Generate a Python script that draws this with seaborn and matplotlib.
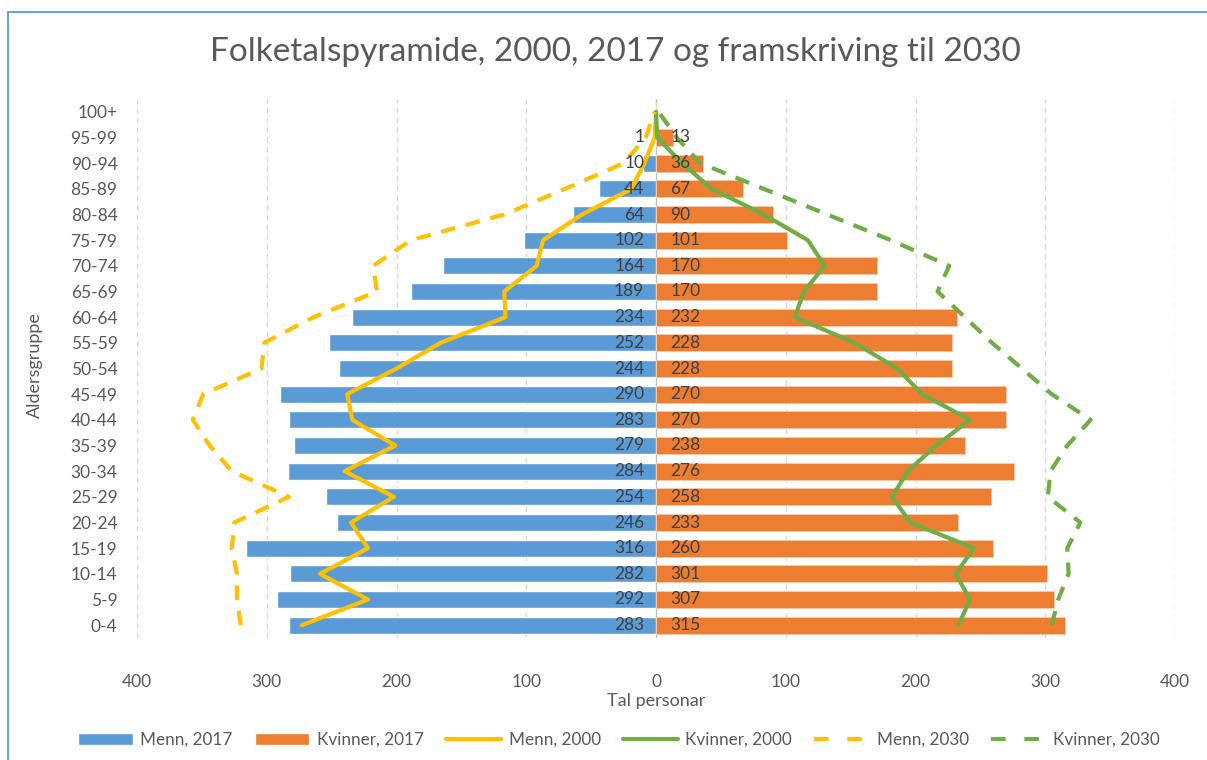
import matplotlib
matplotlib.use("Agg")
import matplotlib.pyplot as plt
from matplotlib.lines import Line2D
from matplotlib.patches import Patch
import numpy as np
import pandas as pd
import seaborn as sns

# age groups, bottom to top
AgeGroups = ["0-4", "5-9", "10-14", "15-19", "20-24", "25-29", "30-34", "35-39", "40-44", "45-49",
             "50-54", "55-59", "60-64", "65-69", "70-74", "75-79", "80-84", "85-89", "90-94", "95-99", "100+"]

Menn_2017 = [283, 292, 282, 316, 246, 254, 284, 279, 283, 290, 244, 252, 234, 189, 164, 102, 64, 44, 10, 1, 0]
Kvinner_2017 = [315, 307, 301, 260, 233, 258, 276, 238, 270, 270, 228, 228, 232, 170, 170, 101, 90, 67, 36, 13, 0]

Menn_2000 = [273, 222, 259, 222, 235, 202, 240, 201, 234, 238, 200, 166, 116, 117, 92, 87, 57, 19, 9, 1, 0]
Kvinner_2000 = [233, 242, 231, 245, 196, 182, 194, 216, 242, 205, 186, 153, 107, 114, 130, 117, 83, 43, 20, 1, 0]

Menn_2030 = [320, 323, 323, 327, 325, 283, 327, 344, 357, 349, 304, 302, 264, 215, 218, 189, 117, 70, 25, 8, 1]
Kvinner_2030 = [305, 310, 318, 317, 327, 302, 304, 317, 335, 305, 282, 259, 238, 217, 226, 181, 132, 83, 34, 16, 2]

XTicks = [-400, -300, -200, -100, 0, 100, 200, 300, 400]

BLUE = "#5B9BD5"
ORANGE = "#ED7D31"
YELLOW = "#FFC000"
GREEN = "#70AD47"
GREY = "#595959"

sns.set_style("white")
plt.rcParams['font.family'] = ['Lato', 'DejaVu Sans']

# top to bottom order for the categorical axis
order = AgeGroups[::-1]
df = pd.DataFrame({"Alder": AgeGroups,
                   "Menn": -np.array(Menn_2017),
                   "Kvinner": np.array(Kvinner_2017)})

fig = plt.figure(figsize=(12.07, 7.6), dpi=100)
ax = fig.add_axes([137/1207, 1-638/760, 1038/1207, 539/760])

sns.barplot(data=df, x="Menn", y="Alder", order=order, color=BLUE, saturation=1,
            width=0.66, orient="h", ax=ax)
sns.barplot(data=df, x="Kvinner", y="Alder", order=order, color=ORANGE, saturation=1,
            width=0.66, orient="h", ax=ax, edgecolor="#F8CBAD", linewidth=0.6)

ypos = 20 - np.arange(len(AgeGroups))
dash = (0, (3.5, 2.6))
sns.lineplot(x=-np.array(Menn_2000), y=ypos, sort=False, estimator=None, color=YELLOW, lw=3, ax=ax)
sns.lineplot(x=np.array(Kvinner_2000), y=ypos, sort=False, estimator=None, color=GREEN, lw=3, ax=ax)
sns.lineplot(x=-np.array(Menn_2030), y=ypos, sort=False, estimator=None, color=YELLOW, lw=3,
             linestyle=dash, ax=ax)
sns.lineplot(x=np.array(Kvinner_2030), y=ypos, sort=False, estimator=None, color=GREEN, lw=3,
             linestyle=dash, ax=ax)

# value labels at the base of the bars
for i, age in enumerate(AgeGroups):
    y = 20 - i
    if Menn_2017[i] > 0:
        ax.text(-9, y, str(Menn_2017[i]), ha="right", va="center", fontsize=12.5, color="#404040")
    if Kvinner_2017[i] > 0:
        ax.text(11, y, str(Kvinner_2017[i]), ha="left", va="center", fontsize=12.5, color="#404040")

ax.set_xlim(-400, 400)
ax.set_ylim(20.5, -0.5)
ax.set_xticks(XTicks)
ax.set_xticklabels([str(abs(v)) for v in XTicks])
ax.tick_params(axis="x", length=0, pad=26, labelsize=12.5, labelcolor=GREY)
ax.tick_params(axis="y", length=0, pad=14, labelsize=12.5, labelcolor=GREY)
ax.set_yticks(range(len(order)))
ax.set_yticklabels(order)

for v in XTicks:
    if v == 0:
        ax.axvline(0, color="#BFBFBF", lw=1, zorder=0.5)
    else:
        ax.axvline(v, color="#D9D9D9", lw=1, ls=(0, (4, 3)), zorder=0)

for s in ax.spines.values():
    s.set_visible(False)

ax.set_xlabel("Tal personar", fontsize=13, color=GREY, va="center")
ax.xaxis.set_label_coords(0.5, -0.117)
ax.set_ylabel("Aldersgruppe", fontsize=13, color=GREY, va="center")
ax.yaxis.set_label_coords(-0.098, 0.506)

fig.text(615/1207, 1-52/760, "Folketalspyramide, 2000, 2017 og framskriving til 2030",
         ha="center", va="center", fontsize=24, color=GREY)

handles = [Patch(facecolor=BLUE, label="Menn, 2017"),
           Patch(facecolor=ORANGE, label="Kvinner, 2017"),
           Line2D([], [], color=YELLOW, lw=3, label="Menn, 2000"),
           Line2D([], [], color=GREEN, lw=3, label="Kvinner, 2000"),
           Line2D([], [], color=YELLOW, lw=3, ls=(0, (3.5, 4.5)), label="Menn, 2030"),
           Line2D([], [], color=GREEN, lw=3, ls=(0, (3.5, 4.5)), label="Kvinner, 2030")]
fig.legend(handles=handles, loc="center", bbox_to_anchor=(619/1207, 20/760), ncol=6,
           frameon=False, fontsize=12.3, handlelength=3.2, handleheight=0.75,
           columnspacing=1.3, handletextpad=0.45, labelcolor=GREY)

# chart area border (left and top edges)
fig.add_artist(Line2D([8/1207, 8/1207], [0, 1-12/760], color=BLUE, lw=1.3))
fig.add_artist(Line2D([8/1207, 1207/1207], [1-12/760, 1-12/760], color=BLUE, lw=1.3))

fig.savefig("out.png", dpi=100)
